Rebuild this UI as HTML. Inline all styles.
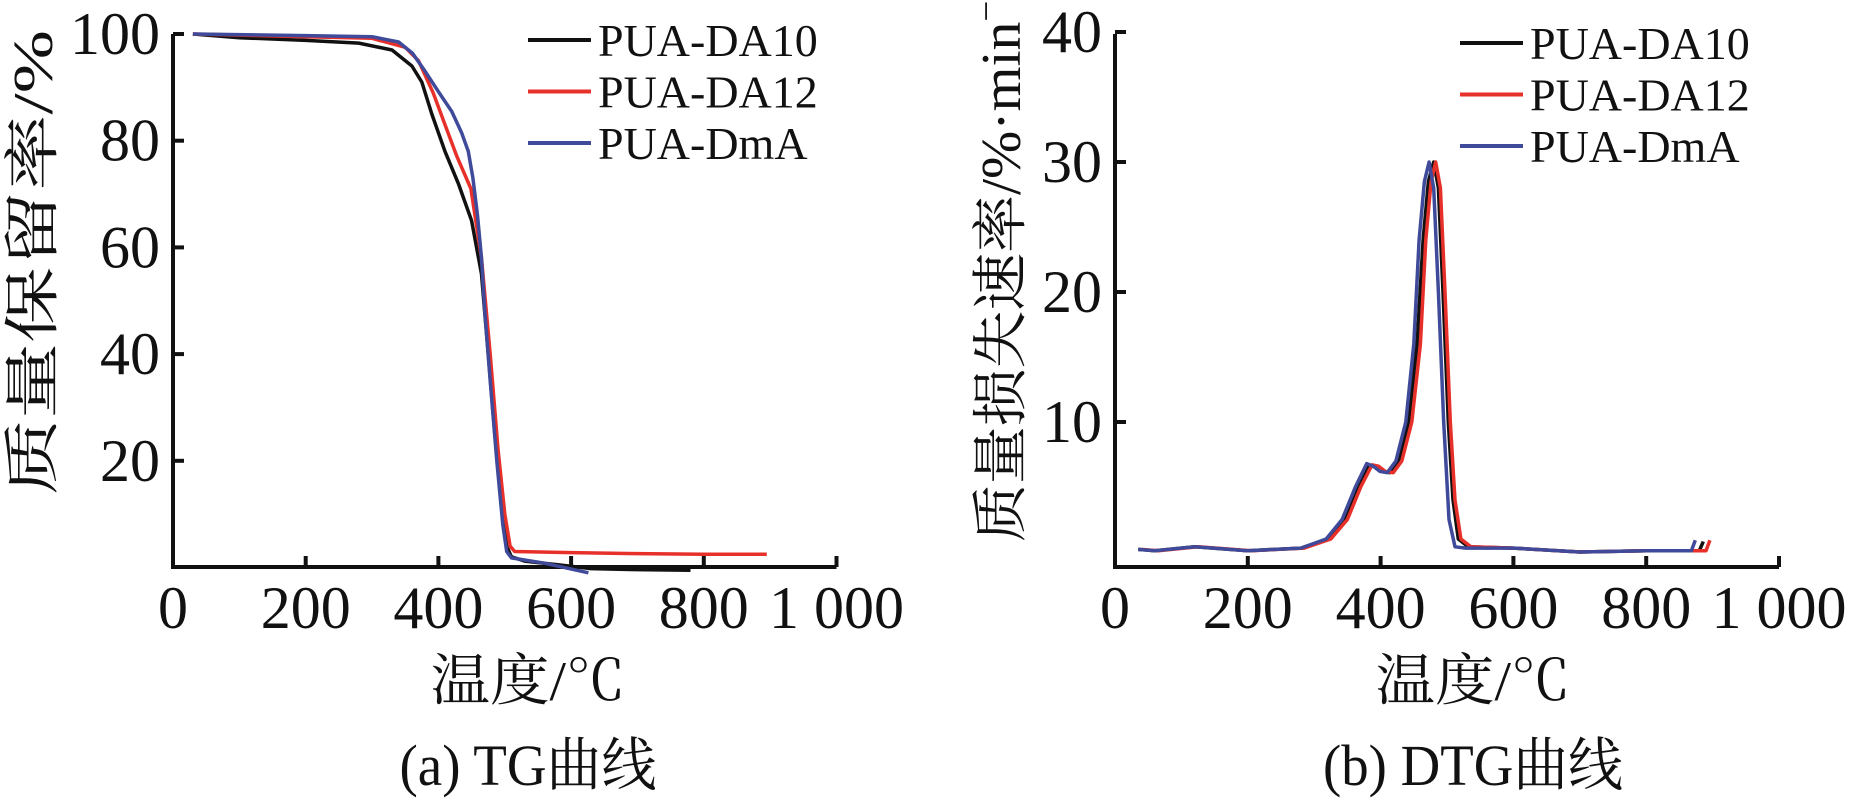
<!DOCTYPE html>
<html><head><meta charset="utf-8"><style>
html,body{margin:0;padding:0;background:#fff;}
svg{display:block;font-family:"Liberation Serif","Noto Serif CJK SC",serif;}
</style></head><body>
<svg id="fig" width="1849" height="798" viewBox="0 0 1849 798"></svg>
<script>
const NS="http://www.w3.org/2000/svg";
const svg=document.getElementById('fig');
const xTicks=[0,200,400,600,800,1000];
const xTickLabels=["0","200","400","600","800","1 000"];
const tgTicks=[20,40,60,80,100];
const dtgTicks=[10,20,30,40];
const seriesNames=["PUA-DA10","PUA-DA12","PUA-DmA"];
const seriesColors=["#111111","#e8302a","#3f4a9a"];
const tgBlack=[[30,100],[100,99.3],[200,98.8],[280,98.3],[330,97],[360,94],[375,91],[390,85],[410,78],[430,72],[450,65],[465,55],[475,40],[485,25],[495,12],[503,4],[510,2],[530,1.2],[580,0.5],[630,-0.2],[700,-0.4],[780,-0.5]];
const tgRed=[[30,100],[200,99.5],[300,99.2],[350,97.5],[370,95],[392,89],[410,83],[428,77],[449,71],[465,58],[478,40],[490,22],[500,10],[508,4],[515,3],[600,2.8],[700,2.6],[800,2.5],[895,2.5]];
const tgBlue=[[30,100],[200,99.7],[300,99.5],[340,98.5],[361,96.4],[380,93],[401,89],[420,85.5],[435,81.5],[445,78],[452,73],[459,66],[465,58],[470,48],[478,35],[488,20],[497,8],[503,3],[510,1.8],[560,0.8],[626,-1]];
const dtgBlack=[[35,0.2],[60,0.1],[120,0.4],[200,0.1],[280,0.3],[320,1],[345,2.5],[365,5],[382,6.7],[392,6.6],[402,6.2],[414,6.1],[427,7],[442,10],[455,16],[464,24],[472,28.5],[480,30],[487,28],[494,20],[502,10],[509,4],[517,1],[532,0.4],[600,0.3],[700,0],[800,0.1],[880,0.1],[886,0.8]];
const dtgRed=[[40,0.2],[65,0.1],[125,0.4],[205,0.1],[285,0.3],[325,1],[350,2.5],[370,5],[387,6.7],[397,6.6],[407,6.2],[419,6.1],[432,7],[447,10],[460,16],[468,24],[476,28.5],[483,30],[490,28],[497,20],[505,10],[512,4],[521,1],[536,0.4],[600,0.3],[700,0],[800,0.1],[890,0.1],[896,0.9]];
const dtgBlue=[[35,0.2],[60,0.1],[120,0.4],[200,0.1],[280,0.3],[318,1],[342,2.5],[362,5],[379,6.8],[389,6.6],[399,6.2],[410,6.1],[423,7],[438,10],[450,16],[458,24],[466,28.5],[473,30],[480,28],[487,20],[495,10],[503,2.5],[512,0.4],[528,0.3],[600,0.3],[700,0],[800,0.1],[868,0.1],[874,0.9]];

function el(tag,attrs,parent){const e=document.createElementNS(NS,tag);for(const k in attrs)e.setAttribute(k,attrs[k]);(parent||svg).appendChild(e);return e;}

function panel(cfg){
  const g=el('g',{});
  
  
  const sx=v=>cfg.x0+v*cfg.kx;
  const sy=v=>cfg.y0-v*cfg.ky;
  const ax=el('path',{d:`M${cfg.x0},${cfg.yTop} V${cfg.axisY} H${sx(1000)}`,stroke:'#111',fill:'none','stroke-width':4},g);
  
  
  xTicks.forEach((t,i)=>{
    if(i>0){const tk=el('line',{x1:sx(t),x2:sx(t),y1:cfg.axisY,y2:cfg.axisY-11,stroke:'#111','stroke-width':4},g);
      
      }
    const tx=el('text',{x:sx(t),y:628,'font-size':60,'text-anchor':'middle',fill:'#111'},g);
    tx.textContent=xTickLabels[i];
    
    
  });
  cfg.yTicks.forEach(t=>{
    const tk=el('line',{x1:cfg.x0,x2:cfg.x0+11,y1:sy(t),y2:sy(t),stroke:'#111','stroke-width':4},g);
    
    
    const tx=el('text',{x:cfg.x0-13,y:sy(t)+20,'font-size':60,'text-anchor':'end',fill:'#111'},g);
    tx.textContent=String(t);
    
    
  });
  cfg.series.forEach((s,i)=>{
    const p=el('path',{d:s.map((d,j)=>(j?'L':'M')+sx(d[0]).toFixed(1)+','+sy(d[1]).toFixed(1)).join(' '),stroke:seriesColors[i],'stroke-width':3.5,fill:'none','stroke-linejoin':'round'},g);
    
    
  });
  seriesNames.forEach((n,i)=>{
    const y=cfg.legY+i*51.5;
    const l=el('line',{x1:cfg.legX,x2:cfg.legX+63,y1:y,y2:y,stroke:seriesColors[i],'stroke-width':4},g);
    
    
    const t=el('text',{x:cfg.legX+70,y:y+16,'font-size':46,fill:'#111'},g);
    t.textContent=n;
    
    
  });
  const xt=el('text',{x:cfg.titleX,y:700,'font-size':56,'text-anchor':'middle',fill:'#111',textLength:195,lengthAdjust:'spacingAndGlyphs'},g);
  xt.textContent='温度/℃';
  
  
  const cp=el('text',{x:cfg.titleX,y:785,'font-size':58,'text-anchor':'middle',fill:'#111',textLength:cfg.capW,lengthAdjust:'spacingAndGlyphs'},g);
  cp.textContent=cfg.caption;
  
  
  const yt=el('text',{x:0,y:0,'font-size':56,fill:'#111',transform:`translate(${cfg.ylX},${cfg.ylY}) rotate(-90)`,textLength:cfg.ylLen,lengthAdjust:'spacingAndGlyphs'},g);
  yt.innerHTML=cfg.ylab;
  
  
}
panel({name:'tg-chart',x0:173,kx:0.6635,y0:567.5,ky:5.335,axisY:567,yTop:34,yTicks:tgTicks,series:[tgBlack,tgRed,tgBlue],legX:528,legY:40,titleX:528,capW:257,caption:'(a) TG曲线',ylX:52,ylY:495,ylLen:465,ylab:'质量保留率/%'});
panel({name:'dtg-chart',x0:1115,kx:0.664,y0:552,ky:13,axisY:567,yTop:34,yTicks:dtgTicks,series:[dtgBlack,dtgRed,dtgBlue],legX:1460,legY:43,titleX:1473,capW:300,caption:'(b) DTG曲线',ylX:1020,ylY:542,ylLen:560,ylab:'质量损失速率/%·min<tspan dy="-22" font-size="36">−1</tspan>'});
</script>
</body></html>
